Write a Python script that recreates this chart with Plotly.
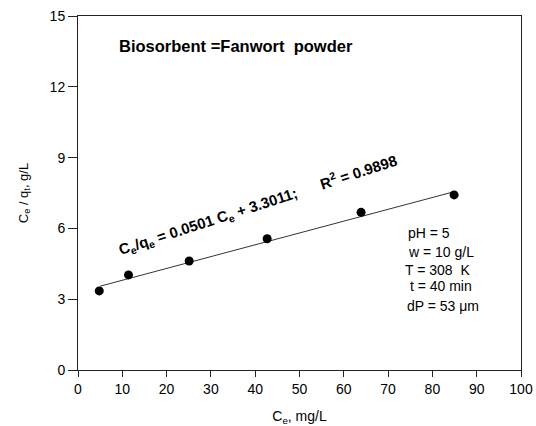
import plotly.graph_objects as go

# Data
ce = [4.8, 11.4, 25.1, 42.7, 63.9, 84.9]          # Ce, mg/L
ce_qe = [3.35, 4.03, 4.62, 5.56, 6.68, 7.42]      # Ce/qe, g/L
slope = 0.0501
intercept = 3.3011
fit_x = [5, 85]
fit_y = [slope * v + intercept for v in fit_x]

x_ticks = [0, 10, 20, 30, 40, 50, 60, 70, 80, 90, 100]
y_ticks = [0, 3, 6, 9, 12, 15]

conditions = ["pH = 5", "w = 10 g/L", "T = 308&nbsp; K", "&nbsp;t = 40 min", "dP = 53 \u03bcm"]
cond_x = [74.1, 74.0, 73.4, 73.6, 73.9]
cond_y = [5.81, 5.0, 4.24, 3.56, 2.71]

font = "Liberation Sans, Arial, sans-serif"

fig = go.Figure()
fig.add_trace(go.Scatter(x=fit_x, y=fit_y, mode="lines",
                         line=dict(color="#333333", width=1), showlegend=False,
                         hoverinfo="skip"))
fig.add_trace(go.Scatter(x=ce, y=ce_qe, mode="markers",
                         marker=dict(color="black", size=9), showlegend=False))

annotations = [
    dict(x=0.088, y=0.914, xref="paper", yref="paper", xanchor="left", yanchor="middle",
         text="<b>Biosorbent =Fanwort&nbsp; powder</b>", showarrow=False,
         font=dict(family=font, size=16.5, color="black")),
    dict(x=40.6, y=7.0, xref="x", yref="y", xanchor="center", yanchor="middle",
         textangle=-18,
         text="<b>C<sub>e</sub>/q<sub>e</sub> = 0.0501 C<sub>e</sub> + 3.3011;&nbsp;&nbsp;&nbsp;&nbsp;&nbsp; R<sup>2</sup> = 0.9898</b>",
         showarrow=False, font=dict(family=font, size=15, color="black")),
]
for t, xv, yv in zip(conditions, cond_x, cond_y):
    annotations.append(dict(x=xv, y=yv, xref="x", yref="y", xanchor="left", yanchor="middle",
                            text=t, showarrow=False,
                            font=dict(family=font, size=14, color="black")))

fig.update_layout(
    width=536, height=426,
    margin=dict(l=78, r=15, t=16, b=56),
    paper_bgcolor="white", plot_bgcolor="white",
    font=dict(family=font, size=14, color="black"),
    annotations=annotations,
    xaxis=dict(range=[0, 100], tickvals=x_ticks, ticks="outside", ticklen=6,
               tickcolor="#222222", showline=True, linecolor="#222222", linewidth=1,
               mirror=True, showgrid=False, zeroline=False, automargin=False,
               title=dict(text="C<sub>e</sub>, mg/L", font=dict(size=14), standoff=17),
               tickfont=dict(size=14)),
    yaxis=dict(range=[0, 15], tickvals=y_ticks, ticks="outside", ticklen=9,
               tickcolor="#222222", showline=True, linecolor="#222222", linewidth=1,
               mirror=True, showgrid=False, zeroline=False, automargin=False,
               title=dict(text="C<sub>e</sub> / q<sub>t</sub>, g/L", font=dict(size=13), standoff=18),
               tickfont=dict(size=14)),
)

fig.write_html("out.html")
